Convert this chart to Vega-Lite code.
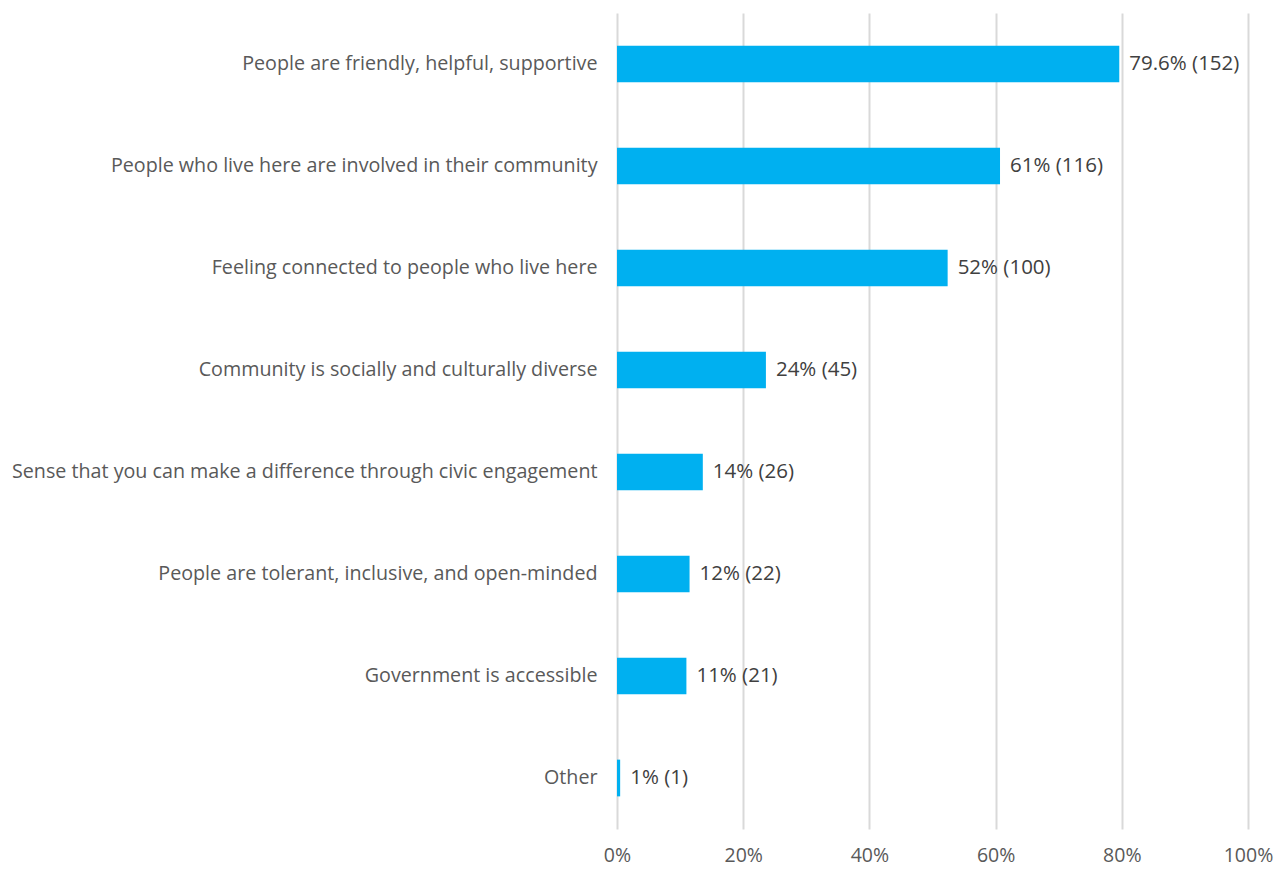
{
  "$schema": "https://vega.github.io/schema/vega-lite/v6.json",
  "autosize": {"type": "none"},
  "padding": {"left": 617, "top": 13, "right": 32, "bottom": 40},
  "width": 631,
  "height": 816,
  "background": "white",
  "config": {
    "view": {"stroke": null},
    "font": "Open Sans"
  },
  "data": {
    "values": [
      {"item": "People are friendly, helpful, supportive", "pct": 79.6, "label": "79.6% (152)"},
      {"item": "People who live here are involved in their community", "pct": 60.7, "label": "61% (116)"},
      {"item": "Feeling connected to people who live here", "pct": 52.4, "label": "52% (100)"},
      {"item": "Community is socially and culturally diverse", "pct": 23.6, "label": "24% (45)"},
      {"item": "Sense that you can make a difference through civic engagement", "pct": 13.6, "label": "14% (26)"},
      {"item": "People are tolerant, inclusive, and open-minded", "pct": 11.5, "label": "12% (22)"},
      {"item": "Government is accessible", "pct": 11.0, "label": "11% (21)"},
      {"item": "Other", "pct": 0.5, "label": "1% (1)"}
    ]
  },
  "encoding": {
    "y": {
      "field": "item",
      "type": "nominal",
      "sort": null,
      "scale": {"paddingInner": 0.64, "paddingOuter": 0.32},
      "axis": {
        "title": null,
        "domain": false,
        "ticks": false,
        "labelPadding": 20,
        "labelFontSize": 19.7,
        "labelColor": "#595959",
        "labelLimit": 700
      }
    },
    "x": {
      "field": "pct",
      "type": "quantitative",
      "scale": {"domain": [0, 100], "nice": false},
      "axis": {
        "title": null,
        "values": [0, 20, 40, 60, 80, 100],
        "labelExpr": "datum.value + '%'",
        "labelFlush": false,
        "domain": false,
        "ticks": false,
        "grid": true,
        "gridColor": "#d9d9d9",
        "gridWidth": 2,
        "labelPadding": 17,
        "labelFontSize": 19.5,
        "labelColor": "#595959"
      }
    }
  },
  "layer": [
    {"mark": {"type": "bar", "color": "#00b0f0"}},
    {
      "mark": {"type": "text", "align": "left", "dx": 10, "fontSize": 20.5, "color": "#404040"},
      "encoding": {"text": {"field": "label"}}
    }
  ]
}
